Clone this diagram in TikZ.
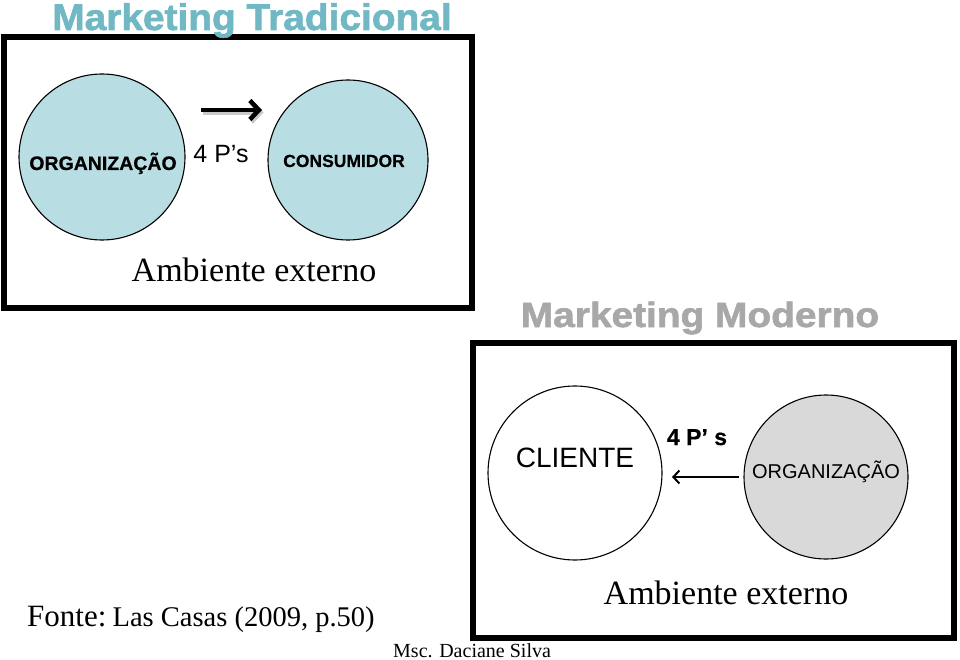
\documentclass[tikz,border=0pt]{standalone}
\usepackage{fontspec}
\setmainfont{Liberation Serif}
\setsansfont{Liberation Sans}
\newfontfamily\titlefont[FakeBold=1.6]{Liberation Sans Bold}
\newfontfamily\heavyfont[FakeBold=0.6]{Liberation Sans Bold}
\usetikzlibrary{arrows.meta}
\definecolor{circblue}{RGB}{184,222,228}
\definecolor{circgray}{RGB}{217,217,217}
\definecolor{tealtitle}{RGB}{112,184,195}
\definecolor{graytitle}{RGB}{168,168,168}
\begin{document}
\begin{tikzpicture}[x=1pt,y=-1pt,
  frame/.style={draw=black,line width=6pt},
  circ/.style={circle,draw=black,line width=1.1pt,inner sep=0pt},
  bigarrow/.style={line width=4.5pt,-{Straight Barb[length=9pt,width=19pt,line width=4.5pt]}},
  thinarrow/.style={line width=2pt,-{Straight Barb[length=6pt,width=13pt,line width=2pt]}},
  titletext/.style={anchor=base,font=\titlefont\fontsize{37}{37}\selectfont},
  ambtext/.style={anchor=base,font=\rmfamily\fontsize{34}{34}\selectfont}]
\useasboundingbox (0,0) rectangle (960,660);
\fill[white] (0,0) rectangle (960,660);

% ---------- Marketing Tradicional ----------
\draw[frame] (4,37) rectangle (472,308);
\node[circ,fill=circblue,minimum size=166pt] (org1) at (102,157) {};
\node[circ,fill=circblue,minimum size=160pt] (cons) at (348,160) {};
\node[anchor=base,font=\heavyfont\fontsize{19.5}{19.5}\selectfont] (org1t) at (103,170) {ORGANIZAÇÃO};
\node[anchor=base,font=\heavyfont\fontsize{17.5}{17.5}\selectfont] (const) at (344,167) {CONSUMIDOR};
\node[anchor=base,font=\sffamily\fontsize{25}{25}\selectfont] (p1) at (221,163) {4 P’s};
\coordinate (a1s) at (201,110);
\coordinate (a1e) at (262,110);
\draw[bigarrow,black!35,opacity=0.6] ([shift={(1.5,2.5)}]a1s) -- ([shift={(1.5,2.5)}]a1e);
\draw[bigarrow] (a1s) -- (a1e);
\node[ambtext] (amb1) at (254,281) {Ambiente externo};
\node[titletext,text=tealtitle,xscale=1.05] (t1) at (252,30) {Marketing Tradicional};

% ---------- Marketing Moderno ----------
\draw[frame] (473,343) rectangle (954,638);
\node[circ,fill=white,minimum size=174pt] (cli) at (575,473) {};
\node[circ,fill=circgray,minimum size=164pt] (org2) at (826,477) {};
\node[anchor=base,font=\sffamily\fontsize{28}{28}\selectfont] (clit) at (575,467) {CLIENTE};
\node[anchor=base,font=\sffamily\fontsize{20}{20}\selectfont] (org2t) at (826,478) {ORGANIZAÇÃO};
\node[anchor=base,font=\heavyfont\fontsize{23}{23}\selectfont] (p2) at (697,445) {4 P’ s};
\coordinate (a2s) at (739,477);
\coordinate (a2e) at (672,477);
\draw[thinarrow] (a2s) -- (a2e);
\node[ambtext] (amb2) at (726,604) {Ambiente externo};
\node[titletext,text=graytitle,font=\titlefont\fontsize{35}{35}\selectfont,xscale=1.11] (t2) at (700,327) {Marketing Moderno};

% ---------- Footer ----------
\node[anchor=base west,inner sep=0pt] (src) at (27,626) {\fontsize{31}{31}\selectfont Fonte:\hspace{0.2em}\fontsize{28.5}{28.5}\selectfont Las Casas (2009, p.50)};
\node[anchor=base west,inner sep=0pt,font=\rmfamily\fontsize{20}{20}\selectfont] (auth) at (393,657) {Msc. Daciane Silva};
\end{tikzpicture}
\end{document}
